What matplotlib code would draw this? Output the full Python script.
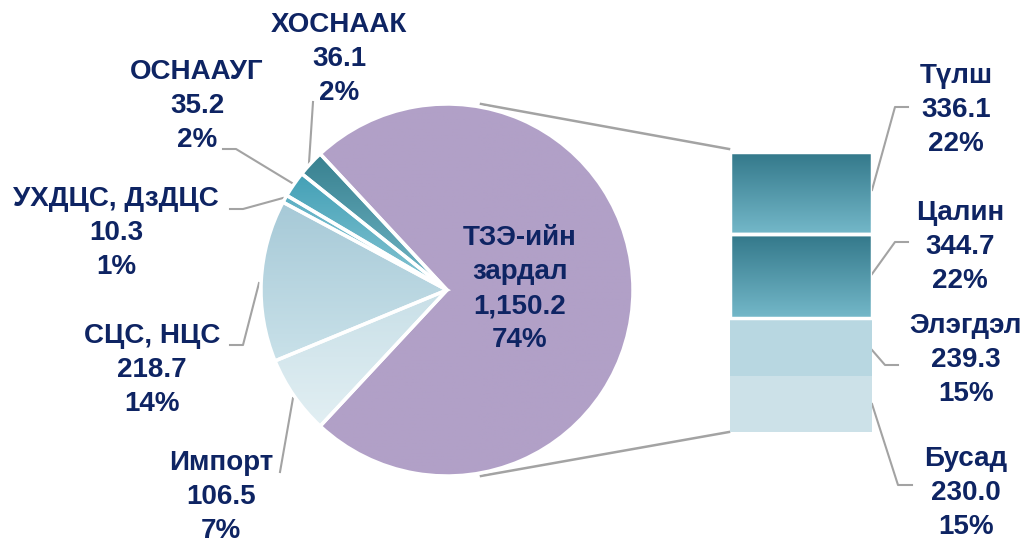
import numpy as np
import matplotlib
matplotlib.use("Agg")
import matplotlib.pyplot as plt
from matplotlib.colors import LinearSegmentedColormap

# pie slices (first one is split into the bar on the right)
pie_labels = ["ТЗЭ-ийн\nзардал", "ХОСНААК", "ОСНААУГ", "УХДЦС, ДзДЦС", "СЦС, НЦС", "Импорт"]
pie_values = [1150.2, 36.1, 35.2, 10.3, 218.7, 106.5]

# breakdown of the first slice, top to bottom
bar_labels = ["Түлш", "Цалин", "Элэгдэл", "Бусад"]
bar_values = [336.1, 344.7, 239.3, 230.0]

TXT = "#0e2463"
LINE = "#a3a3a3"
PURPLE = "#b1a0c7"
W, H = 1031, 540
LSTEP = 33  # px between label lines

plt.rcParams["font.family"] = ["Liberation Sans", "DejaVu Sans"]

fig = plt.figure(figsize=(W / 100, H / 100), dpi=100)
ax = fig.add_axes([0, 0, 1, 1])

total = sum(pie_values)
start = -180 * pie_values[0] / total
cx, cy, r = 447, H - 290, 186
wedges, _ = ax.pie(pie_values, startangle=start, counterclock=True,
                   center=(cx, cy), radius=r,
                   wedgeprops=dict(edgecolor="white", linewidth=2.5))

# top / bottom colours of each slice
grads = [(PURPLE, PURPLE), ("#37808f", "#74b8c8"), ("#43a0b6", "#88c6d4"),
         ("#5aaec3", "#9ed0dc"), ("#a6c9d7", "#c9e1e9"), ("#c8dfe7", "#e2eff3")]
grad = np.linspace(0, 1, 256).reshape(-1, 1)

def fill_gradient(a, patch, c_top, c_bot, z):
    ext = patch.get_path().get_extents(patch.get_patch_transform())
    cmap = LinearSegmentedColormap.from_list("g", [c_top, c_bot])
    im = a.imshow(grad, cmap=cmap, aspect="auto", origin="upper",
                  extent=(ext.x0, ext.x1, ext.y0, ext.y1), zorder=z)
    im.set_clip_path(patch)

for w, (ct, cb) in zip(wedges, grads):
    w.set_facecolor("none")
    w.set_zorder(3)
    fill_gradient(ax, w, ct, cb, 2)

ax.set_xlim(0, W)
ax.set_ylim(0, H)
ax.set_aspect("equal")
ax.axis("off")

def label(x, y_first, s):
    # y_first: baseline of the first line, in pixels from the top
    n = s.count("\n")
    ax.text(x, H - (y_first + n * LSTEP), s, ha="center", va="baseline",
            fontsize=20, fontweight="bold", color=TXT, linespacing=1.4,
            zorder=5)

# labels for pie
pie_pos = [(520, 248), (339, 34), (197, 81), (116, 208), (152, 345), (221, 472)]
for lab, v, (x, y) in zip(pie_labels, pie_values, pie_pos):
    label(x, y, f"{lab}\n{v:,.1f}\n{round(100 * v / total):.0f}%")

# leader lines for pie labels
leaders = [
    [(313, 102), (309, 163)],
    [(223, 149), (236, 149), (292, 183)],
    [(230, 209), (243, 209), (283, 198)],
    [(230, 345), (243, 345), (259, 283)],
    [(280, 472), (293, 398)],
]
for pts in leaders:
    xs, ys = zip(*pts)
    ax.plot(xs, [H - y for y in ys], color=LINE, lw=1.5, zorder=1)

# connector lines pie -> bar
ax.plot([481, 729], [H - 104, H - 149], color=LINE, lw=1.8, zorder=1)
ax.plot([481, 729], [H - 476, H - 432], color=LINE, lw=1.8, zorder=1)

# stacked bar of the split slice
bx = fig.add_axes([730 / W, (H - 432) / H, 142 / W, 280 / H])
bottoms = np.concatenate([[0], np.cumsum(bar_values[::-1])[:-1]])[::-1]
bar_cols = [("#33788a", "#74b8c9"), ("#33788a", "#74b8c9"),
            ("#b8d7e1", "#b8d7e1"), ("#cce1e8", "#cce1e8")]
grad_bar = [True, True, False, False]
bars = bx.bar(0.5, bar_values, bottom=bottoms, width=1.0)
for b, (ct, cb), g in zip(bars, bar_cols, grad_bar):
    if g:
        b.set_facecolor("none")
        b.set_edgecolor("white")
        b.set_linewidth(2.5)
        b.set_zorder(3)
        fill_gradient(bx, b, ct, cb, 2)
    else:
        b.set_facecolor(ct)
        b.set_linewidth(0)
        b.set_zorder(1)
bx.set_xlim(0, 1)
bx.set_ylim(0, sum(bar_values))
bx.axis("off")

bar_pos = [(956, 85), (960, 222), (966, 335), (966, 468)]
for lab, v, (x, y) in zip(bar_labels, bar_values, bar_pos):
    label(x, y, f"{lab}\n{v:,.1f}\n{round(100 * v / total):.0f}%")

bar_leaders = [
    [(872, 190), (895, 107), (908, 107)],
    [(872, 274), (895, 242), (908, 242)],
    [(872, 350), (885, 365), (898, 365)],
    [(872, 404), (898, 485), (912, 485)],
]
for pts in bar_leaders:
    xs, ys = zip(*pts)
    ax.plot(xs, [H - y for y in ys], color=LINE, lw=1.5, zorder=1)

fig.savefig("out.png", dpi=100, facecolor="white")
